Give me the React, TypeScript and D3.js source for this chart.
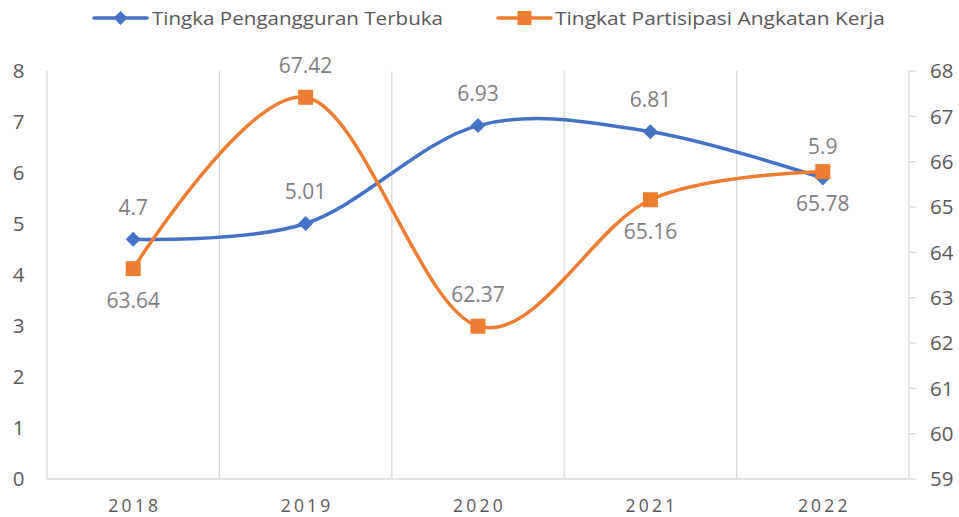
import React from "react";
import * as d3 from "d3";

const categories = ["2018", "2019", "2020", "2021", "2022"];
const tptValues = [4.7, 5.01, 6.93, 6.81, 5.9];
const tpakValues = [63.64, 67.42, 62.37, 65.16, 65.78];
const leftTicks = [0, 1, 2, 3, 4, 5, 6, 7, 8];
const rightTicks = [59, 60, 61, 62, 63, 64, 65, 66, 67, 68];
const tpakLabelPos = ["below", "above", "above", "below", "below"];
const seriesNames = ["Tingka Pengangguran Terbuka", "Tingkat Partisipasi Angkatan Kerja"];

const W = 959;
const H = 517;
const L = 47;
const R = 909;
const T = 71;
const B = 479;
const BLUE = "#4472C4";
const ORANGE = "#ED7D31";
const FONT = "'Open Sans', 'Noto Sans', sans-serif";

export default function App() {
  const x = d3.scaleBand<string>().domain(categories).range([L, R]);
  const cx = (c: string) => (x(c) as number) + x.bandwidth() / 2;
  const yL = d3.scaleLinear().domain([0, 8]).range([B, T]);
  const yR = d3.scaleLinear().domain([59, 68]).range([B, T]);

  const line = d3.line<[number, number]>().x((d) => d[0]).y((d) => d[1]).curve(d3.curveCardinal.tension(0));
  const bluePts: [number, number][] = categories.map((c, i) => [cx(c), yL(tptValues[i])]);
  const orangePts: [number, number][] = categories.map((c, i) => [cx(c), yR(tpakValues[i])]);

  const diamond = (px: number, py: number, s = 7.5) =>
    `M${px},${py - s}L${px + s},${py}L${px},${py + s}L${px - s},${py}Z`;

  const gridXs = [L, ...categories.slice(1).map((c) => x(c) as number), R];

  return (
    <svg width={W} height={H} style={{ position: "absolute", left: 0, top: 0 }}>
      <rect width={W} height={H} fill="#fff" />
      {gridXs.map((gx, i) => (
        <line key={i} x1={gx} x2={gx} y1={T} y2={B} stroke="#d9d9d9" strokeWidth={1.3} />
      ))}
      <line x1={L} x2={R} y1={B} y2={B} stroke="#d9d9d9" strokeWidth={1.3} />
      {rightTicks.map((t) => (
        <line key={t} x1={R} x2={R + 7} y1={yR(t)} y2={yR(t)} stroke="#d9d9d9" strokeWidth={1.3} />
      ))}
      {leftTicks.map((t) => (
        <text key={t} x={18.5} y={yL(t)} dy="0.36em" textAnchor="middle" fontFamily={FONT} fontSize={20.5} fill="#595959">
          {t}
        </text>
      ))}
      {rightTicks.map((t) => (
        <text key={t} x={930} y={yR(t)} dy="0.36em" textAnchor="start" fontFamily={FONT} fontSize={20.5} fill="#595959">
          {t}
        </text>
      ))}
      {categories.map((c) => (
        <text key={c} x={cx(c) + 1.5} y={506} dy="0.36em" textAnchor="middle" fontFamily={FONT} fontSize={17.5} letterSpacing={3.2} fill="#595959">
          {c}
        </text>
      ))}
      <path d={line(bluePts) || ""} fill="none" stroke={BLUE} strokeWidth={3.5} strokeLinecap="round" />
      <path d={line(orangePts) || ""} fill="none" stroke={ORANGE} strokeWidth={3.5} strokeLinecap="round" />
      {bluePts.map(([px, py], i) => (
        <path key={i} d={diamond(px, py)} fill={BLUE} />
      ))}
      {orangePts.map(([px, py], i) => (
        <rect key={i} x={px - 7.5} y={py - 7.5} width={15} height={15} fill={ORANGE} />
      ))}
      {bluePts.map(([px, py], i) => (
        <text key={i} x={px} y={py - 32} dy="0.36em" textAnchor="middle" fontFamily={FONT} fontSize={21} fill="#7f7f7f">
          {tptValues[i]}
        </text>
      ))}
      {orangePts.map(([px, py], i) => (
        <text key={i} x={px} y={tpakLabelPos[i] === "above" ? py - 32 : py + 32} dy="0.36em" textAnchor="middle" fontFamily={FONT} fontSize={21} fill="#7f7f7f">
          {tpakValues[i]}
        </text>
      ))}
      <line x1={94} x2={147} y1={18} y2={18} stroke={BLUE} strokeWidth={3.5} strokeLinecap="round" />
      <path d={diamond(120.5, 18, 7)} fill={BLUE} />
      <text x={152} y={18} dy="0.35em" fontFamily={FONT} fontSize={19} fill="#595959" textLength={291} lengthAdjust="spacingAndGlyphs">
        {seriesNames[0]}
      </text>
      <line x1={498} x2={551} y1={18} y2={18} stroke={ORANGE} strokeWidth={3.5} strokeLinecap="round" />
      <rect x={517.5} y={11} width={14} height={14} fill={ORANGE} />
      <text x={555} y={18} dy="0.35em" fontFamily={FONT} fontSize={19} fill="#595959" textLength={330} lengthAdjust="spacingAndGlyphs">
        {seriesNames[1]}
      </text>
    </svg>
  );
}
